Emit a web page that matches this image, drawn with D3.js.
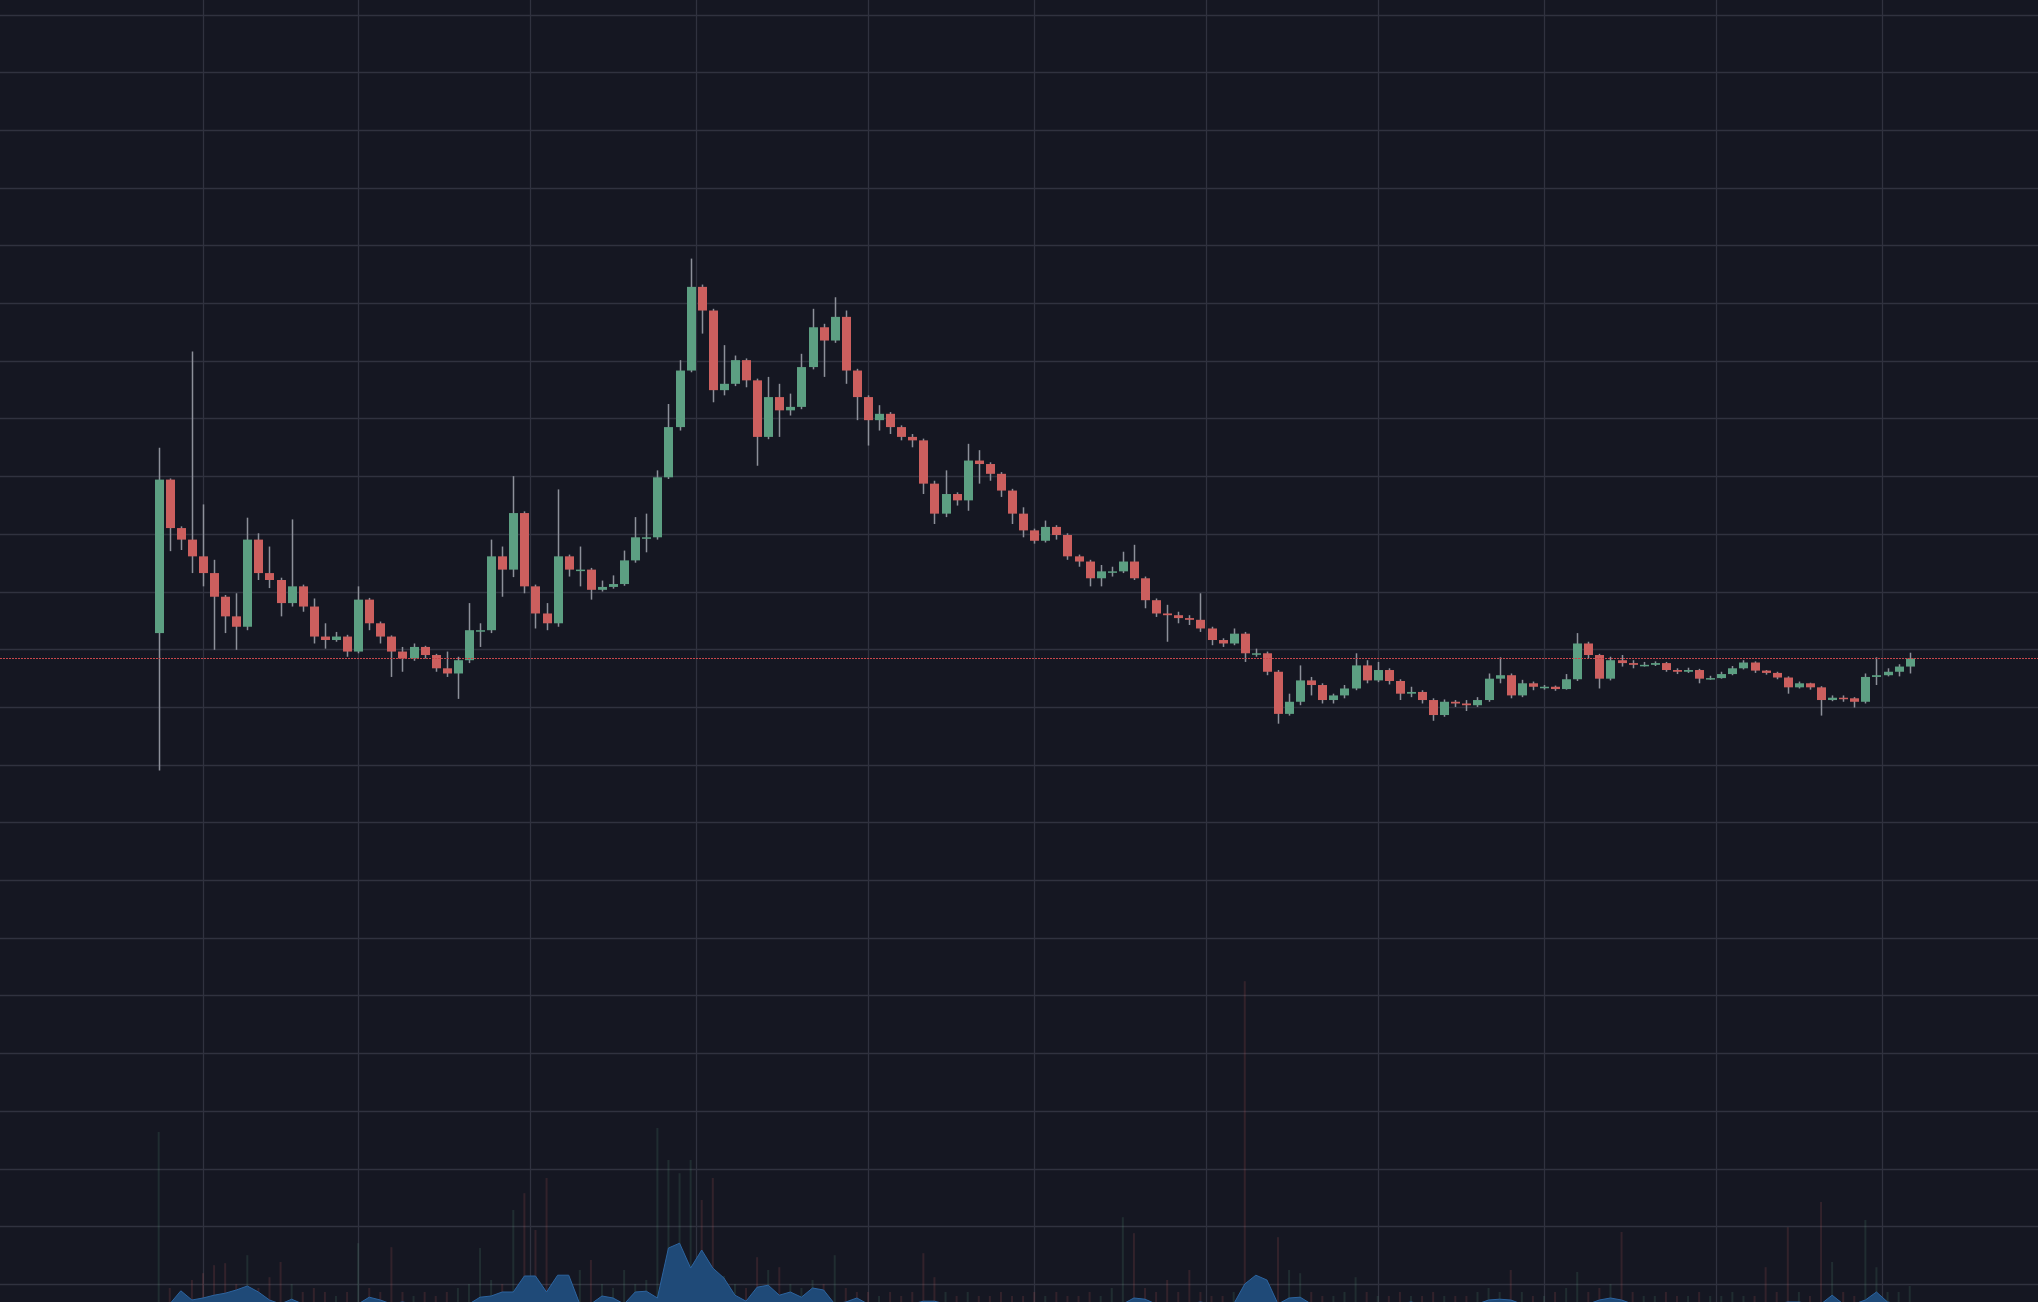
<!DOCTYPE html>
<html>
<head>
<meta charset="utf-8">
<script src="https://cdn.jsdelivr.net/npm/d3@7"></script>
<style>
  body { margin: 0; background: #151722; overflow: hidden; }
  svg { display: block; }
</style>
</head>
<body>
<svg width="2038" height="1302"></svg>
<script>
// one candle every 2 days, first one on 2021-01-24
const startDate = '2021-01-24';
const stepDays = 2;
const firstOpen = 112.8;

const close = [
  139.4,131.0,129.0,126.1,123.2,119.1,115.7,113.9,129.0,123.2,
  122.0,118.0,120.9,117.4,112.2,111.6,112.2,109.6,118.6,114.5,
  112.2,109.6,108.4,110.4,109.0,106.7,105.8,108.1,113.3,113.3,
  126.1,123.8,133.6,120.9,116.2,114.5,126.1,123.8,123.8,120.3,
  120.8,121.3,125.4,129.4,129.4,139.8,148.5,158.3,172.8,168.7,
  154.9,156.0,160.1,156.6,146.8,153.7,151.4,152.0,158.9,165.8,
  163.5,167.6,158.3,153.7,149.7,150.8,148.5,146.8,146.2,138.7,
  133.5,136.9,135.8,142.7,142.1,140.4,137.5,133.5,130.6,128.8,
  131.2,129.8,126.1,125.2,122.3,123.5,123.5,125.2,122.3,118.5,
  116.2,115.9,115.4,115.1,113.6,111.6,111.0,112.7,109.3,109.3,
  106.1,98.8,100.9,104.6,103.8,101.2,102.0,103.2,107.2,104.6,
  106.4,104.5,102.3,102.6,101.2,98.6,100.9,100.6,100.3,101.2,
  104.9,105.5,102.0,104.1,103.5,103.5,103.1,104.8,111.0,109.0,
  104.9,108.1,107.6,107.3,107.3,107.6,106.4,106.1,106.4,104.9,
  105.0,105.7,106.7,107.7,106.3,105.9,105.1,103.4,104.1,103.4,
  101.2,101.6,101.5,100.9,105.2,105.5,106.1,107.0,108.4
];

const high = [
  144.9,139.6,131.3,161.6,135.1,125.5,119.4,119.7,132.8,130.1,
  127.8,122.4,132.5,121.2,118.8,114.5,113.0,112.5,120.9,118.9,
  114.8,112.4,110.4,111.0,110.6,109.2,109.6,108.7,118.0,114.5,
  129.0,127.8,140.0,133.9,121.2,118.0,137.7,126.4,127.8,124.1,
  121.9,122.8,127.1,132.9,133.5,141.0,152.5,160.1,177.7,173.2,
  169.0,162.7,160.9,160.4,156.9,157.2,156.0,154.3,161.2,169.0,
  166.4,171.0,168.7,158.6,154.0,152.3,151.1,148.8,147.3,146.5,
  139.2,141.0,137.2,145.6,144.5,142.4,140.7,137.8,134.6,130.9,
  132.3,131.5,130.1,126.4,125.5,124.6,124.3,126.9,128.1,122.6,
  118.8,117.7,116.5,115.9,119.7,113.9,111.9,113.6,113.0,110.1,
  109.6,106.4,102.3,107.2,105.2,104.1,102.3,103.8,109.3,108.1,
  107.8,106.7,104.8,103.5,102.9,101.5,101.3,101.2,101.2,101.7,
  105.8,108.6,105.8,104.7,104.4,103.8,103.7,105.7,112.8,111.3,
  109.2,108.7,109.0,108.1,107.8,107.9,107.8,106.7,106.8,106.6,
  105.4,106.1,107.1,108.1,107.9,106.4,106.1,105.3,104.4,104.2,
  103.6,102.0,102.0,101.7,105.8,108.6,106.7,107.4,109.4
];

const low = [
  89.0,127.0,127.2,123.2,120.9,109.9,112.8,109.9,113.3,122.0,
  120.6,115.7,117.4,116.5,111.0,110.1,111.3,108.7,109.3,113.3,
  111.0,105.2,106.1,108.0,108.4,106.1,105.2,101.4,107.6,110.4,
  112.8,119.1,122.5,119.7,113.6,113.3,113.9,122.6,120.9,118.6,
  120.0,120.5,121.0,125.0,126.8,129.0,139.5,147.9,158.0,164.7,
  152.8,154.0,155.6,155.4,141.8,146.4,146.8,150.5,151.6,158.5,
  157.2,163.1,156.0,149.7,145.3,147.9,147.3,146.2,145.0,136.9,
  131.7,132.9,134.9,134.0,138.7,139.2,136.4,131.7,129.4,128.3,
  128.5,129.0,125.5,124.3,120.9,120.9,122.6,123.2,122.0,117.1,
  115.6,111.3,114.5,114.2,113.0,110.7,110.4,110.7,107.8,108.7,
  105.5,97.1,98.5,100.3,102.0,100.6,100.6,101.5,102.9,104.1,
  104.3,103.9,101.2,101.7,100.6,97.6,98.3,100.0,99.3,100.0,
  100.9,104.1,101.5,101.7,102.9,103.0,102.8,103.0,104.5,108.4,
  103.2,104.6,107.0,106.7,107.0,107.1,106.1,105.7,105.9,104.1,
  104.7,104.9,105.5,106.5,105.9,105.6,104.8,102.3,103.2,103.0,
  98.5,101.0,100.9,99.9,100.6,103.8,105.3,105.3,105.8
];

// traded volume per candle (faint bars)
const volume = [
  43,4,3,6,7.7,9.7,10.2,5,12.2,4,
  6.7,10.5,5,3,4,3,2,3,15.2,4,
  3,14.2,3,2,3,2,3,4,5,14,
  6,5,23.5,27.7,18.5,31.5,6,4,8.5,11,
  5,4,8.5,5,6,44,36,32.7,36,26,
  31.5,7,5,4,11.7,8.5,9.2,5,4,6,
  5,12.2,4,3,3,2,3,2,3,12.7,
  6.7,3,2,3,2,2,3,2,2,3,
  2,3,2,2,3,2,4,21.7,17.7,4,
  3,6,3,8.5,3,2,2,3,80.7,5,
  4,16.7,8.5,7.7,3,2,2,3,6.7,3,
  2,2,3,2,2,3,2,2,2,3,
  4,3,8.5,3,2,2,3,4,8,3,
  4,5,18,3,2,2,3,2,2,3,
  2,2,3,2,2,9.2,3,19.2,3,2,
  25.5,10.5,3,2,21,9.2,3,3,4.5
];

// quote volume, drawn as the blue area
const quoteVolume = [
  0,0,3.3,1.0,1.5,2.2,2.7,3.5,4.5,3.0,
  1.0,0,1.2,0,0,0,0,0,0,1.7,
  1.0,0,0.5,0,0,0,0,0,0,1.7,
  2.0,3.0,3.0,7.0,7.0,3.0,7.2,7.2,0,0,
  2.0,1.5,0,3.0,3.2,1.5,14.0,15.2,9.0,13.5,
  9.0,6.5,2.2,0.7,4.2,4.7,2.2,3.0,1.7,4.0,
  3.5,0,0.5,1.5,0,0,0,0,0,0.7,
  0.7,0,0,0,0,0,0,0,0,0,
  0,0,0,0,0,0,0,0,1.5,1.2,
  0,0,0,0,0.5,0,0,0,5.0,7.2,
  6.0,0,1.5,1.7,0,0,0,0,0,0,
  0,0,0,0.5,0,0,0,0,0,0,
  1.0,1.2,1.0,0,0,0,0,0,0,0,
  1.0,1.5,1.0,0,0,0,0,0,0,0,
  0,0,0,0,0,0,0,0.5,0.5,0,
  0,2.2,0,0,1.0,3.0,0.5,0,0
];

makeChart();

function makeChart() {
  var svg = d3.select('svg'),
      width = +svg.attr('width'),
      height = +svg.attr('height');

  var t0 = d3.utcParse('%Y-%m-%d')(startDate);
  var data = close.map((c, i) => ({
    date: d3.utcDay.offset(t0, i * stepDays),
    open: i === 0 ? firstOpen : close[i - 1],
    high: high[i],
    low: low[i],
    close: c,
    volume: volume[i],
    quote: quoteVolume[i]
  }));

  var x = d3.scaleUtc()
      .domain([new Date(Date.UTC(2021, 1, 1)), new Date(Date.UTC(2021, 11, 1))])
      .range([203, 1882]);
  var y = d3.scaleLinear().domain([0, 220]).range([1284, 14.5]);
  var v = d3.scaleLinear().domain([0, 100]).range([1304, 904]);

  var up = '#5c9f82', down = '#cc5f5e', wick = '#8d909a';
  var crisp = p => Math.round(p) + 0.5;

  // grid
  var grid = svg.append('g').attr('stroke', '#30323f').attr('stroke-width', 1.3);
  grid.selectAll('.h')
      .data(y.ticks(22))
      .enter().append('line')
      .attr('x1', 0).attr('x2', width)
      .attr('y1', d => crisp(y(d))).attr('y2', d => crisp(y(d)));
  grid.selectAll('.v')
      .data(d3.utcMonth.range(data[0].date, data[data.length - 1].date))
      .enter().append('line')
      .attr('y1', 0).attr('y2', height)
      .attr('x1', d => crisp(x(d))).attr('x2', d => crisp(x(d)));

  // volume bars
  svg.append('g')
      .selectAll('rect')
      .data(data)
      .enter().append('rect')
      .attr('x', d => x(d.date) - 1)
      .attr('width', 2)
      .attr('y', d => v(d.volume))
      .attr('height', d => v(0) - v(d.volume))
      .attr('fill', d => d.close >= d.open ? up : down)
      .attr('opacity', 0.16);

  // quote volume area
  var area = d3.area()
      .x(d => x(d.date))
      .y0(v(0))
      .y1(d => v(d.quote));
  var topLine = d3.line()
      .x(d => x(d.date))
      .y(d => v(d.quote));
  svg.append('path')
      .datum(data)
      .attr('d', area)
      .attr('fill', '#1f4a78');
  svg.append('path')
      .datum(data)
      .attr('d', topLine)
      .attr('fill', 'none')
      .attr('stroke', '#2c64a0')
      .attr('stroke-width', 1);

  // candles
  var candle = svg.append('g')
      .selectAll('g')
      .data(data)
      .enter().append('g');
  candle.append('line')
      .attr('x1', d => crisp(x(d.date)))
      .attr('x2', d => crisp(x(d.date)))
      .attr('y1', d => y(d.high))
      .attr('y2', d => y(d.low))
      .attr('stroke', wick)
      .attr('stroke-width', 1.5);
  candle.append('rect')
      .attr('x', d => Math.round(x(d.date)) - 4)
      .attr('width', 9)
      .attr('y', d => y(Math.max(d.open, d.close)))
      .attr('height', d => Math.max(1.5, Math.abs(y(d.open) - y(d.close))))
      .attr('fill', d => d.close >= d.open ? up : down);

  // last price line
  var last = data[data.length - 1].close;
  svg.append('line')
      .attr('x1', 0).attr('x2', width)
      .attr('y1', crisp(y(last))).attr('y2', crisp(y(last)))
      .attr('stroke', '#c8474b')
      .attr('stroke-width', 1)
      .attr('stroke-dasharray', '2,1');
}
</script>
</body>
</html>
